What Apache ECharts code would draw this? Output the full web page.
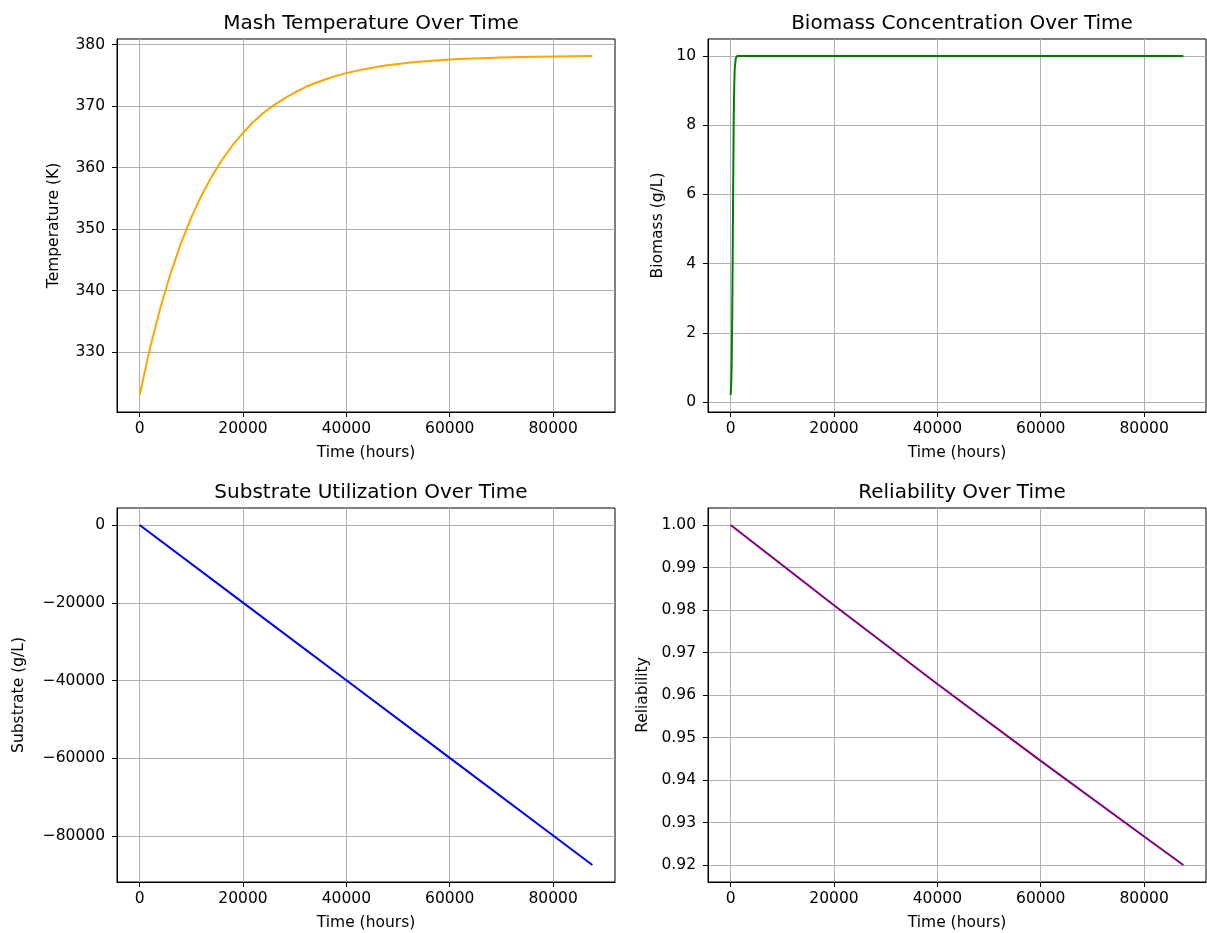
<!DOCTYPE html>
<html>
<head>
<meta charset="utf-8">
<script src="https://cdn.jsdelivr.net/npm/echarts@6/dist/echarts.min.js"></script>
<style>
  html, body { margin: 0; padding: 0; background: #fff; }
  #chart { width: 1207px; height: 933px; }
</style>
</head>
<body>
<div id="chart"></div>
<script>
// values
const timeTicks = [0, 20000, 40000, 60000, 80000]

const tempTime = [0, 2000, 4000, 6000, 8000, 10000, 12000, 14000, 16000, 18000, 20000,
  22000, 24000, 26000, 28000, 30000, 32000, 34000, 36000, 38000, 40000,
  42000, 44000, 46000, 48000, 50000, 52000, 54000, 56000, 58000, 60000,
  63000, 66000, 70000, 74000, 80000, 87600]
const tempValues = [323.0, 330.6, 337.15, 342.8, 347.7, 351.9, 355.5, 358.6, 361.3, 363.65, 365.65,
  367.4, 368.9, 370.15, 371.25, 372.2, 373.05, 373.75, 374.35, 374.9, 375.35,
  375.74, 376.08, 376.37, 376.62, 376.84, 377.03, 377.19, 377.33, 377.45, 377.55,
  377.68, 377.78, 377.89, 377.97, 378.05, 378.12]
const tempTicks = [330, 340, 350, 360, 370, 380]

const bioTime = [0, 100, 200, 300, 400, 500, 600, 700, 800, 1000, 1300, 87600]
const bioValues = [0.2, 0.48, 1.1, 2.33, 4.28, 6.48, 8.19, 9.17, 9.65, 9.94, 10.0, 10.0]
const bioTicks = [0, 2, 4, 6, 8, 10]

const subTime = [0, 20000, 40000, 60000, 80000, 87600]
const subValues = [0, -19950, -39900, -59850, -79800, -87400]
const subTicks = [-80000, -60000, -40000, -20000, 0]

const relTime = [0, 20000, 40000, 60000, 80000, 87600]
const relValues = [1.0, 0.9811, 0.9626, 0.9445, 0.9267, 0.92]
const relTicks = [0.92, 0.93, 0.94, 0.95, 0.96, 0.97, 0.98, 0.99, 1.00]

const FONT = 'DejaVu Sans'
const minus = (s) => String(s).replace('-', '\u2212')

const grids = [
  { left: 117, top: 39, width: 498, height: 373, show: true, borderColor: '#000', borderWidth: 1 },
  { left: 708, top: 39, width: 498, height: 373, show: true, borderColor: '#000', borderWidth: 1 },
  { left: 117, top: 508, width: 498, height: 374, show: true, borderColor: '#000', borderWidth: 1 },
  { left: 708, top: 508, width: 498, height: 374, show: true, borderColor: '#000', borderWidth: 1 }
]

const axisCommon = (ticks, fmt) => ({
  type: 'value',
  axisLine: { show: true, onZero: false, lineStyle: { color: '#000', width: 1 } },
  axisTick: { show: true, length: 5, customValues: ticks, lineStyle: { color: '#000', width: 1 } },
  axisLabel: { customValues: ticks, color: '#000', fontFamily: FONT, fontSize: 15.5, formatter: fmt },
  splitLine: { show: true, lineStyle: { color: '#b0b0b0', width: 1 } },
  nameTextStyle: { color: '#000', fontFamily: FONT, fontSize: 15.5 }
})

const xAxis = [0, 1, 2, 3].map((i) => ({
  ...axisCommon(timeTicks, (v) => minus(v)),
  gridIndex: i,
  min: -4380,
  max: 91980,
  name: 'Time (hours)',
  nameLocation: 'middle',
  nameGap: 33,
  axisLabel: { ...axisCommon(timeTicks).axisLabel, margin: 9, formatter: (v) => minus(v) }
}))

const yDefs = [
  { ticks: tempTicks, min: 320.25, max: 380.9, name: 'Temperature (K)', gap: 55, fmt: (v) => String(v) },
  { ticks: bioTicks, min: -0.29, max: 10.49, name: 'Biomass (g/L)', gap: 42, fmt: (v) => String(v) },
  { ticks: subTicks, min: -91770, max: 4370, name: 'Substrate (g/L)', gap: 90, fmt: (v) => minus(v) },
  { ticks: relTicks, min: 0.916, max: 1.004, name: 'Reliability', gap: 57, fmt: (v) => v.toFixed(2) }
]

const yAxis = yDefs.map((d, i) => ({
  ...axisCommon(d.ticks, d.fmt),
  gridIndex: i,
  min: d.min,
  max: d.max,
  name: d.name,
  nameLocation: 'middle',
  nameGap: d.gap,
  axisLabel: { ...axisCommon(d.ticks).axisLabel, margin: 12, formatter: d.fmt }
}))

const titleStyle = { color: '#000', fontFamily: FONT, fontSize: 20, fontWeight: 'normal' }
const title = [
  { text: 'Mash Temperature Over Time', left: 366, top: 9, textAlign: 'center', textStyle: titleStyle },
  { text: 'Biomass Concentration Over Time', left: 957, top: 9, textAlign: 'center', textStyle: titleStyle },
  { text: 'Substrate Utilization Over Time', left: 366, top: 478, textAlign: 'center', textStyle: titleStyle },
  { text: 'Reliability Over Time', left: 957, top: 478, textAlign: 'center', textStyle: titleStyle }
]

const pairs = (xs, ys) => xs.map((x, k) => [x, ys[k]])
const lineSeries = (i, xs, ys, color) => ({
  type: 'line',
  xAxisIndex: i,
  yAxisIndex: i,
  data: pairs(xs, ys),
  showSymbol: false,
  symbol: 'none',
  smooth: false,
  lineStyle: { color: color, width: 2 },
  animation: false
})

const chart = echarts.init(document.getElementById('chart'))
chart.setOption({
  backgroundColor: '#fff',
  animation: false,
  title: title,
  grid: grids,
  xAxis: xAxis,
  yAxis: yAxis,
  series: [
    lineSeries(0, tempTime, tempValues, '#ffa500'),
    lineSeries(1, bioTime, bioValues, '#008000'),
    lineSeries(2, subTime, subValues, '#0000ff'),
    lineSeries(3, relTime, relValues, '#800080')
  ]
})
</script>
</body>
</html>
